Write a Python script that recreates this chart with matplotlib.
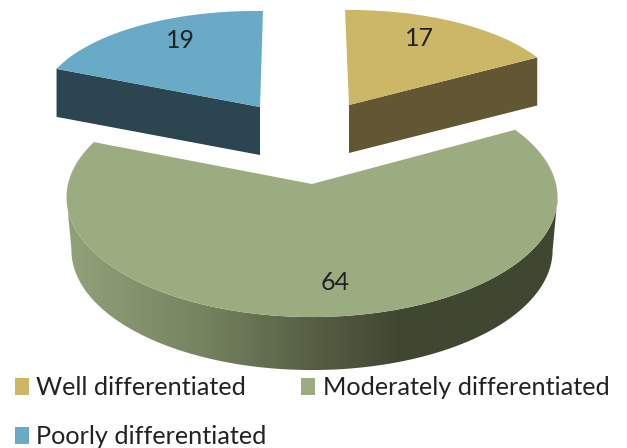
import numpy as np
import matplotlib
matplotlib.use("Agg")
import matplotlib.pyplot as plt
from matplotlib.colors import LinearSegmentedColormap
from matplotlib.patches import Patch, Polygon

categories = ["Well differentiated", "Moderately differentiated", "Poorly differentiated"]
values = [17, 64, 19]
top_colors = ["#CBB765", "#9BAC80", "#69ABC6"]
wall_colors = ["#635733", None, "#2B4551"]

plt.rcParams["font.family"] = ["Lato", "DejaVu Sans"]
TEXT = "#222222"
W, H = 627, 448

fig = plt.figure(figsize=(W / 100, H / 100), dpi=100)
ax = fig.add_axes([0, 0, 1, 1])
ax.set_xlim(0, W)
ax.set_ylim(H, 0)
ax.axis("off")

# Per-slice tilted disc: apex, horizontal and depth axes, foreshortening, wall height
disc = [
    dict(apex=(349, 105), u=(217, -2), v=(-4, -95), k=0.0, depth=48, shrink=1.0),
    dict(apex=(312, 184), u=(244, 0), v=(0, -118.4), k=0.11, depth=53, shrink=0.98),
    dict(apex=(260, 107), u=(220, 3), v=(3, -96), k=0.0, depth=48, shrink=1.0),
]


def project(d, theta, drop=0.0, scale=1.0):
    s, c = np.sin(theta), np.cos(theta)
    f = 1 / (1 + d["k"] * c)
    x = d["apex"][0] + scale * f * (d["u"][0] * s + d["v"][0] * c)
    y = d["apex"][1] + f * (d["u"][1] * s + d["v"][1] * c) + drop
    return np.column_stack([x, y])


fractions = np.cumsum([0] + values) / sum(values)
angles = 2 * np.pi * fractions

for i, d in enumerate(disc):
    t = np.linspace(angles[i], angles[i + 1], 360)
    arc = project(d, t)
    apex = np.array([d["apex"]], dtype=float)
    if wall_colors[i] is not None:
        # Flat radial face of an exploded slice, on the side facing the viewer
        end = t[-1] if i == 0 else t[0]
        outer = project(d, np.array([end]))
        face = np.vstack([apex, outer, outer + [0, d["depth"]], apex + [0, d["depth"]]])
        ax.add_patch(Polygon(face, closed=True, fc=wall_colors[i], ec="none", zorder=2))
    else:
        # Curved outer wall between the two silhouette points, shaded left to right
        first, last = arc[:, 0].argmax(), arc[:, 0].argmin()
        front = t[first:last + 1]
        upper = project(d, front)
        lower = project(d, front, drop=d["depth"], scale=d["shrink"])
        wall = Polygon(np.vstack([upper, lower[::-1]]), closed=True, fc="none", ec="none")
        ax.add_patch(wall)
        shade = LinearSegmentedColormap.from_list(
            "wall",
            [(0.0, "#92A27A"), (0.27, "#76845F"), (0.52, "#545C42"),
             (0.68, "#3F4731"), (1.0, "#3F4731")],
        )
        x0, x1 = arc[:, 0].min(), arc[:, 0].max()
        img = ax.imshow(
            np.linspace(0, 1, 256)[None, :], cmap=shade, aspect="auto",
            extent=(x0, x1, H, 0), zorder=1,
        )
        img.set_clip_path(wall)
        ax.set_xlim(0, W)
        ax.set_ylim(H, 0)
    ax.add_patch(
        Polygon(np.vstack([apex, arc]), closed=True, fc=top_colors[i], ec="none", zorder=3)
    )

# Value labels on the top faces
label_xy = [(419, 38), (335, 282), (180, 41)]
for v, (lx, ly) in zip(values, label_xy):
    ax.text(lx, ly, str(v), ha="center", va="center", fontsize=18, color=TEXT, zorder=5)

order = [0, 2, 1]
handles = [Patch(fc=top_colors[i], ec="none", label=categories[i]) for i in order]
ax.legend(
    handles=handles, ncol=2, loc="lower left", bbox_to_anchor=(15 / W, 0 / H),
    frameon=False, fontsize=18.2, labelcolor=TEXT, handlelength=0.55, handleheight=0.65,
    handletextpad=0.3, columnspacing=1.36, labelspacing=1.03, borderpad=0, borderaxespad=0,
)

fig.savefig("out.png", dpi=100, facecolor="white")
